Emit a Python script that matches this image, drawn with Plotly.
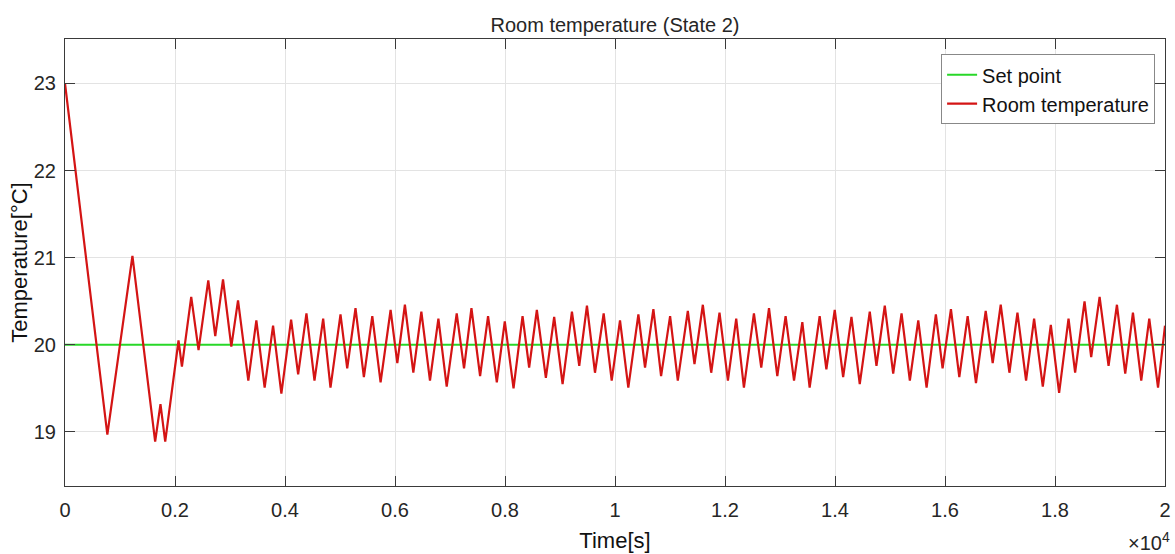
import plotly.graph_objects as go

# Room temperature turning points (time in s, temperature in °C)
time_s = [
    0, 770, 1226, 1639, 1736, 1822, 2064, 2126, 2295, 2428,
    2605, 2732, 2873, 3024, 3146, 3333, 3479, 3630, 3783, 3934,
    4111, 4239, 4390, 4536, 4694, 4827, 5009, 5131, 5282, 5434,
    5587, 5738, 5920, 6042, 6180, 6333, 6479, 6636, 6789, 6940,
    7122, 7255, 7390, 7547, 7692, 7851, 7996, 8155, 8319, 8439,
    8579, 8743, 8894, 9047, 9217, 9350, 9490, 9636, 9794, 9940,
    10091, 10242, 10425, 10546, 10698, 10838, 11002, 11142, 11324, 11445,
    11597, 11749, 11900, 12053, 12204, 12344, 12526, 12659, 12800, 12951,
    13102, 13255, 13406, 13539, 13721, 13843, 13995, 14148, 14299, 14450,
    14632, 14754, 14905, 15058, 15210, 15361, 15514, 15665, 15834, 15956,
    16108, 16260, 16412, 16563, 16740, 16867, 17013, 17171, 17317, 17474,
    17620, 17778, 17924, 18075, 18246, 18366, 18537, 18658, 18811, 18974,
    19126, 19277, 19417, 19568, 19714, 19873, 20000,
]
room_temp = [
    23.00, 18.97, 21.02, 18.89, 19.32, 18.89, 20.05, 19.75, 20.55, 19.94,
    20.74, 20.10, 20.75, 19.98, 20.51, 19.59, 20.28, 19.51, 20.22, 19.44,
    20.29, 19.66, 20.36, 19.59, 20.30, 19.51, 20.35, 19.73, 20.42, 19.63,
    20.33, 19.57, 20.40, 19.79, 20.46, 19.68, 20.38, 19.59, 20.30, 19.52,
    20.36, 19.73, 20.42, 19.64, 20.33, 19.57, 20.27, 19.50, 20.33, 19.74,
    20.40, 19.62, 20.32, 19.55, 20.38, 19.76, 20.45, 19.68, 20.36, 19.59,
    20.28, 19.51, 20.35, 19.74, 20.41, 19.64, 20.33, 19.59, 20.39, 19.78,
    20.46, 19.68, 20.37, 19.59, 20.30, 19.51, 20.36, 19.74, 20.42, 19.64,
    20.33, 19.59, 20.26, 19.51, 20.33, 19.72, 20.40, 19.63, 20.32, 19.55,
    20.38, 19.76, 20.45, 19.67, 20.36, 19.59, 20.28, 19.51, 20.35, 19.73,
    20.41, 19.63, 20.33, 19.56, 20.39, 19.79, 20.46, 19.68, 20.37, 19.59,
    20.30, 19.52, 20.23, 19.45, 20.30, 19.68, 20.50, 19.86, 20.55, 19.76,
    20.46, 19.67, 20.37, 19.59, 20.30, 19.51, 20.22,
]

# Set point
setpoint_time = [0, 20000]
setpoint_temp = [20, 20]

# Axis ticks
x_tickvals = [0, 2000, 4000, 6000, 8000, 10000, 12000, 14000, 16000, 18000, 20000]
x_ticktext = ["0", "0.2", "0.4", "0.6", "0.8", "1", "1.2", "1.4", "1.6", "1.8", "2"]
y_tickvals = [19, 20, 21, 22, 23]
y_range = [18.38, 23.51]

FONT = "Liberation Sans, Arial, Helvetica, sans-serif"
AXIS_COLOR = "#3a3a3a"
GRID_COLOR = "#e3e3e3"

fig = go.Figure()
fig.add_trace(go.Scatter(
    x=setpoint_time, y=setpoint_temp, mode="lines", name="Set point",
    line=dict(color="rgb(40,215,40)", width=2),
))
fig.add_trace(go.Scatter(
    x=time_s, y=room_temp, mode="lines", name="Room temperature",
    line=dict(color="rgb(212,20,20)", width=2.2),
))

fig.update_xaxes(
    range=[0, 20000], tickvals=x_tickvals, ticktext=x_ticktext,
    showline=True, linecolor=AXIS_COLOR, linewidth=1, mirror="ticks",
    ticks="inside", ticklen=10, tickcolor=AXIS_COLOR, tickwidth=1,
    showgrid=True, gridcolor=GRID_COLOR, gridwidth=1, zeroline=False,
    tickfont=dict(family=FONT, size=20, color="#262626"),
    automargin=False, ticklabelstandoff=6,
    title=dict(text="Time[s]", font=dict(family=FONT, size=22, color="#111111"), standoff=12),
)

# Left axis: labels, grid and box line
fig.update_yaxes(
    range=y_range, tickvals=y_tickvals,
    showline=True, linecolor=AXIS_COLOR, linewidth=1, mirror=True,
    ticks="", showgrid=True, gridcolor=GRID_COLOR, gridwidth=1, zeroline=False,
    tickfont=dict(family=FONT, size=20, color="#262626"),
    automargin=False, ticklabelstandoff=4,
    title=dict(text="Temperature[°C]", font=dict(family=FONT, size=22, color="#111111"), standoff=0),
)

fig.update_layout(
    # Overlay axis carrying the inward tick marks on both sides
    yaxis2=dict(
        overlaying="y", matches="y", range=y_range, tickvals=y_tickvals,
        ticks="inside", ticklen=10, tickcolor=AXIS_COLOR, tickwidth=1,
        mirror="ticks", showline=True, linecolor=AXIS_COLOR, linewidth=1,
        showticklabels=False, showgrid=False, zeroline=False, side="left",
    ),
    width=1175, height=554,
    margin=dict(l=65, r=10, t=39, b=68),
    paper_bgcolor="white", plot_bgcolor="white",
    font=dict(family=FONT, size=20, color="#262626"),
    title=dict(
        text="Room temperature (State 2)", x=0.5, xref="paper",
        y=1 - 25 / 554, yref="container", yanchor="middle", xanchor="center",
        font=dict(family=FONT, size=20, color="#262626"),
    ),
    legend=dict(
        x=0.991, y=0.966, xanchor="right", yanchor="top",
        bgcolor="white", bordercolor="#888888", borderwidth=1,
        font=dict(family=FONT, size=20, color="#111111"),
        tracegroupgap=0, itemwidth=30,
    ),
    annotations=[dict(
        text="×10<sup>4</sup>", xref="paper", yref="paper",
        x=1.006, y=-0.125, xanchor="right", yanchor="middle", showarrow=False,
        font=dict(family=FONT, size=20, color="#262626"),
    )],
)

# A hidden trace ties the overlay axis into the figure
fig.add_trace(go.Scatter(
    x=[None], y=[None], yaxis="y2", showlegend=False, hoverinfo="skip",
))

fig.write_html("out.html")
